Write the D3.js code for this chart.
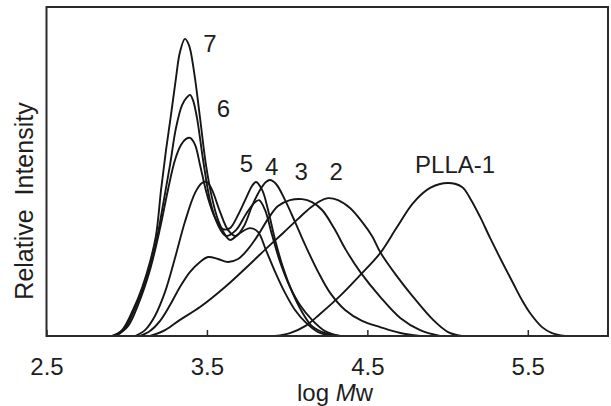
<!DOCTYPE html>
<html>
<head>
<meta charset="utf-8">
<script src="https://cdn.jsdelivr.net/npm/d3@7"></script>
<style>
    body { margin: 0; background: #fff; }
    text { font-family: "Liberation Sans", Arial, Helvetica, sans-serif; fill: #1e1e1e; }
</style>
</head>
<body>
<div id="plot"></div>
<script>
// GPC traces, x = log Mw, y = relative intensity (0-100)
const x7 = [2.908, 2.971, 3.039, 3.095, 3.145, 3.183, 3.214, 3.245, 3.276, 3.307, 3.332, 3.363, 3.388, 3.420, 3.457, 3.494, 3.532, 3.569, 3.607, 3.644, 3.706, 3.769, 3.819, 3.868, 3.925, 3.987, 4.049, 4.112, 4.193, 4.280];
const y7 = [0, 1.8, 7.9, 14.6, 22.5, 30.7, 44.4, 56.5, 67.2, 78.4, 86.3, 90.3, 88.4, 80.2, 66.3, 52.0, 41.9, 35.3, 31.3, 29.2, 31.3, 32.8, 31.6, 26.1, 19.5, 13.1, 7.9, 4.3, 1.2, 0];

const x6 = [2.921, 2.989, 3.052, 3.114, 3.176, 3.226, 3.270, 3.307, 3.345, 3.376, 3.395, 3.413, 3.438, 3.476, 3.519, 3.569, 3.619, 3.681, 3.744, 3.794, 3.825, 3.862, 3.906, 3.956, 4.018, 4.080, 4.155, 4.236, 4.330];
const y6 = [0, 2.4, 8.5, 16.1, 26.7, 39.8, 52.0, 63.2, 70.2, 72.6, 73.3, 71.7, 66.3, 53.5, 41.3, 33.7, 30.4, 32.2, 37.1, 40.4, 41.3, 38.3, 30.7, 22.5, 14.9, 9.4, 4.9, 1.5, 0];

const x5 = [2.933, 3.008, 3.070, 3.145, 3.208, 3.257, 3.301, 3.339, 3.370, 3.395, 3.426, 3.457, 3.501, 3.551, 3.600, 3.644, 3.694, 3.744, 3.781, 3.806, 3.844, 3.881, 3.925, 3.975, 4.031, 4.093, 4.155, 4.236, 4.330];
const y5 = [0, 3.0, 9.4, 20.1, 32.8, 44.4, 53.5, 58.1, 59.9, 60.2, 58.1, 52.0, 42.9, 35.9, 32.5, 32.8, 36.8, 41.9, 45.6, 46.8, 44.4, 38.3, 29.2, 20.7, 13.4, 7.3, 3.0, 0.9, 0];

const x4 = [3.052, 3.114, 3.176, 3.239, 3.301, 3.363, 3.426, 3.469, 3.501, 3.532, 3.582, 3.632, 3.681, 3.731, 3.781, 3.831, 3.868, 3.893, 3.931, 3.987, 4.049, 4.112, 4.193, 4.268, 4.361, 4.467, 4.580, 4.705, 4.829];
const y4 = [0, 1.8, 6.1, 13.4, 23.7, 34.7, 43.5, 46.5, 46.8, 44.4, 37.7, 32.2, 30.4, 33.4, 39.5, 44.4, 46.8, 47.4, 46.2, 41.3, 34.7, 27.7, 19.5, 13.1, 7.9, 4.6, 2.7, 0.9, 0];

const x3 = [3.083, 3.145, 3.208, 3.270, 3.332, 3.395, 3.457, 3.507, 3.569, 3.632, 3.694, 3.756, 3.819, 3.881, 3.943, 4.018, 4.093, 4.155, 4.218, 4.292, 4.367, 4.455, 4.580, 4.705, 4.829, 4.953];
const y3 = [0, 1.5, 4.6, 9.4, 14.9, 19.5, 22.5, 24.0, 23.4, 22.5, 23.4, 26.4, 30.7, 35.6, 39.5, 41.3, 41.6, 40.7, 38.3, 32.8, 26.1, 19.5, 11.9, 5.5, 1.8, 0];

const x2 = [3.145, 3.239, 3.332, 3.457, 3.613, 3.769, 3.881, 3.975, 4.068, 4.143, 4.205, 4.255, 4.317, 4.392, 4.467, 4.529, 4.580, 4.679, 4.785, 4.910, 5.003, 5.090];
const y2 = [0, 1.8, 4.9, 8.8, 14.9, 21.9, 27.1, 31.3, 35.6, 38.9, 41.0, 41.9, 41.3, 38.9, 34.7, 30.4, 25.5, 18.5, 11.9, 4.9, 1.2, 0];

const x1 = [3.925, 4.018, 4.112, 4.205, 4.330, 4.455, 4.580, 4.685, 4.785, 4.891, 5.003, 5.090, 5.140, 5.203, 5.265, 5.340, 5.408, 5.464, 5.514, 5.589, 5.651, 5.733];
const y1 = [0, 0.9, 3.0, 6.7, 12.2, 18.5, 25.2, 33.1, 40.4, 45.0, 46.5, 45.3, 41.9, 36.2, 29.8, 22.5, 16.1, 10.9, 7.0, 2.7, 0.9, 0];

// label text and where it sits (log Mw, intensity of baseline)
const labels = ["7", "6", "5", "4", "3", "2", "PLLA-1"];
const labelX = [3.519, 3.603, 3.747, 3.903, 4.087, 4.305, 5.047];
const labelY = [86.3, 66.6, 49.8, 48.9, 47.4, 47.4, 49.5];

const tickValues = [2.5, 3.5, 4.5, 5.5];

const width = 611;
const height = 406;
const margin = { top: 7, right: 3, bottom: 70, left: 46.5 };

const svg = d3.select("#plot")
    .append("svg")
    .attr("width", width)
    .attr("height", height);

const xScale = d3.scaleLinear()
    .domain([2.5, 6.0])
    .range([margin.left, width - margin.right]);

const yScale = d3.scaleLinear()
    .domain([0, 100])
    .range([height - margin.bottom, margin.top]);

const series = [
    [x7, y7], [x6, y6], [x5, y5], [x4, y4], [x3, y3], [x2, y2], [x1, y1]
].map(([xs, ys]) => xs.map((v, i) => [v, ys[i]]));

// keep traces inside the frame (catmull-rom can dip a hair below 0)
svg.append("clipPath")
    .attr("id", "clip")
    .append("rect")
    .attr("x", margin.left)
    .attr("y", margin.top)
    .attr("width", width - margin.left - margin.right)
    .attr("height", height - margin.top - margin.bottom);

const line = d3.line()
    .x((d) => xScale(d[0]))
    .y((d) => yScale(d[1]))
    .curve(d3.curveCatmullRom.alpha(0.5));

svg.append("g")
    .attr("clip-path", "url(#clip)")
    .selectAll("path")
    .data(series)
    .join("path")
    .attr("d", line)
    .attr("fill", "none")
    .attr("stroke", "#161616")
    .attr("stroke-width", 1.9)
    .attr("stroke-linejoin", "round");

// frame
svg.append("rect")
    .attr("x", margin.left)
    .attr("y", margin.top)
    .attr("width", width - margin.right - margin.left)
    .attr("height", height - margin.bottom - margin.top)
    .attr("fill", "none")
    .attr("stroke", "#2a2a2a")
    .attr("stroke-width", 2);

// bottom axis: inner ticks, labels below
const xAxis = d3.axisBottom(xScale)
    .tickValues(tickValues)
    .tickFormat(d3.format(".1f"))
    .tickSizeInner(-6)
    .tickSizeOuter(0)
    .tickPadding(22);

const gx = svg.append("g")
    .attr("transform", `translate(0,${height - margin.bottom})`)
    .call(xAxis);
gx.select(".domain").remove();
gx.selectAll("line").attr("stroke", "#2a2a2a").attr("stroke-width", 1.5);
gx.selectAll("text")
    .attr("dy", null)
    .attr("y", 375 - (height - margin.bottom))
    .style("font-size", "24px")
    .attr("fill", "#1e1e1e");

const xLabel = svg.append("text")
    .attr("x", 335)
    .attr("y", 401)
    .attr("text-anchor", "middle")
    .style("font-size", "24px");
xLabel.append("tspan").text("log ");
xLabel.append("tspan").style("font-style", "italic").text("M");
xLabel.append("tspan").text("w");

svg.append("text")
    .attr("transform", "translate(33,201) rotate(-90)")
    .attr("text-anchor", "middle")
    .style("font-size", "25px")
    .style("white-space", "pre")
    .text("Relative  Intensity");

// curve labels
svg.append("g")
    .selectAll("text")
    .data(labels)
    .join("text")
    .attr("x", (d, i) => xScale(labelX[i]))
    .attr("y", (d, i) => yScale(labelY[i]))
    .attr("text-anchor", "middle")
    .style("font-size", "24px")
    .text((d) => d);
</script>
</body>
</html>
